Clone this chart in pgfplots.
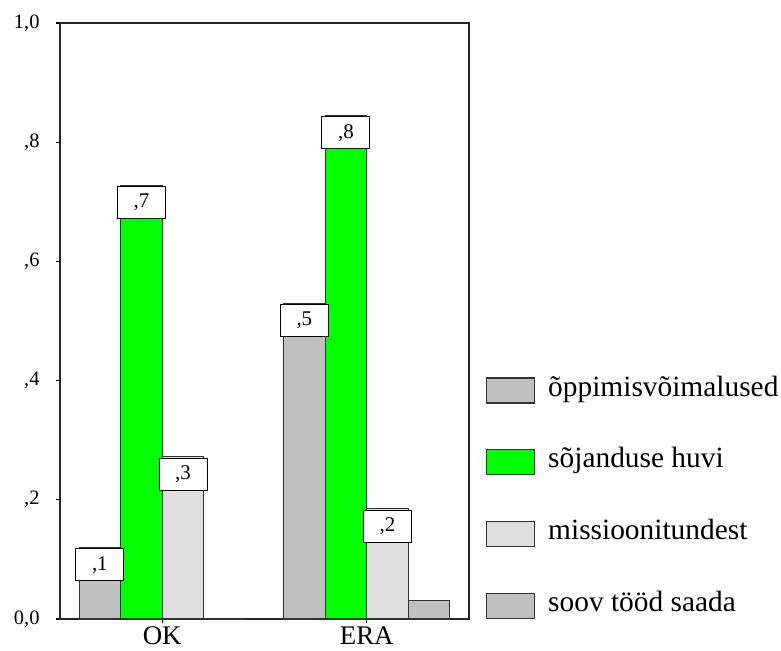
\documentclass[border=0pt]{standalone}
\usepackage{fontspec}
\setmainfont{Liberation Serif}
\usepackage{pgfplots}
\pgfplotsset{compat=1.18}
\usepackage{pgfplotstable}
\definecolor{gA}{RGB}{192,192,192}
\definecolor{gG}{RGB}{0,255,0}
\definecolor{gC}{RGB}{222,222,222}
\definecolor{gD}{RGB}{192,192,192}
\definecolor{edge}{RGB}{50,50,50}

% bar centres: group OK at 0, ERA at 1; four bars of width 0.2034 per group
\pgfplotstableread{
x y
-0.3051 0.120
0.6949 0.530
}\tA
\pgfplotstableread{
x y
-0.1017 0.728
0.8983 0.845
}\tB
\pgfplotstableread{
x y
0.1017 0.272
1.1017 0.185
}\tC
\pgfplotstableread{
x y
0.3051 0.000
1.3051 0.031
}\tD
\pgfplotstableread{
x y lab
-0.3051 0.120 {,1}
-0.1017 0.728 {,7}
0.1017 0.272 {,3}
0.6949 0.530 {,5}
0.8983 0.845 {,8}
1.1017 0.185 {,2}
}\tL

\pgfplotsset{
  mybar/.style={ybar, bar width=41.5bp, bar shift=0pt, draw=edge, line width=1.2bp,
    legend image code/.code={\draw[##1] (0bp,-7bp) rectangle (48bp,18bp);}},
}

\begin{document}
\begin{tikzpicture}
\useasboundingbox (0,0) rectangle (781bp,651bp);
\begin{axis}[
  at={(60bp,32bp)}, anchor=south west,
  width=409bp, height=596bp, scale only axis,
  xmin=-0.5, xmax=1.5, ymin=0, ymax=1,
  clip=false,
  xtick={0,1}, xticklabels={\textrm{OK},\textrm{ERA}},
  ytick={0,0.2,0.4,0.6,0.8,1},
  yticklabels={{\textrm{0,0}},{\textrm{,2}},{\textrm{,4}},{\textrm{,6}},{\textrm{,8}},{\textrm{1,0}}},
  tick pos=left, tick align=outside, major tick length=4bp,
  tick style={black, line width=1.3bp},
  axis line style={black!85, line width=1.1bp},
  xticklabel style={font=\fontsize{27}{30}\selectfont},
  yticklabel style={font=\fontsize{20.5}{24}\selectfont, xshift=-13bp},
  legend style={at={(1.0416,0.4077)}, anchor=north west, draw=none, fill=none,
    inner sep=0pt, outer sep=0pt, row sep=43.7bp, column sep=13bp,
    font=\fontsize{29.5}{34}\selectfont,
    cells={anchor=base west},
    nodes={inner sep=0pt, text height=20bp, text depth=8bp}},
]
\addplot[mybar, fill=gA] table[x=x,y=y] {\tA};
\addlegendentry{õppimisvõimalused}
\addplot[mybar, fill=gG] table[x=x,y=y] {\tB};
\addlegendentry{sõjanduse huvi}
\addplot[mybar, fill=gC] table[x=x,y=y] {\tC};
\addlegendentry{missioonitundest}
\addplot[mybar, fill=gD] table[x=x,y=y] {\tD};
\addlegendentry{soov tööd saada}

\addplot[forget plot, draw=none, mark=none, point meta=explicit symbolic,
  nodes near coords={\textrm{\pgfplotspointmeta}},
  every node near coord/.style={anchor=north, draw=black, fill=white,
    line width=1bp, minimum width=48bp, minimum height=32bp, inner sep=0pt,
    yshift=-1bp, font=\fontsize{21}{24}\selectfont}]
  table[x=x,y=y,meta=lab] {\tL};
\end{axis}
\end{tikzpicture}
\end{document}
